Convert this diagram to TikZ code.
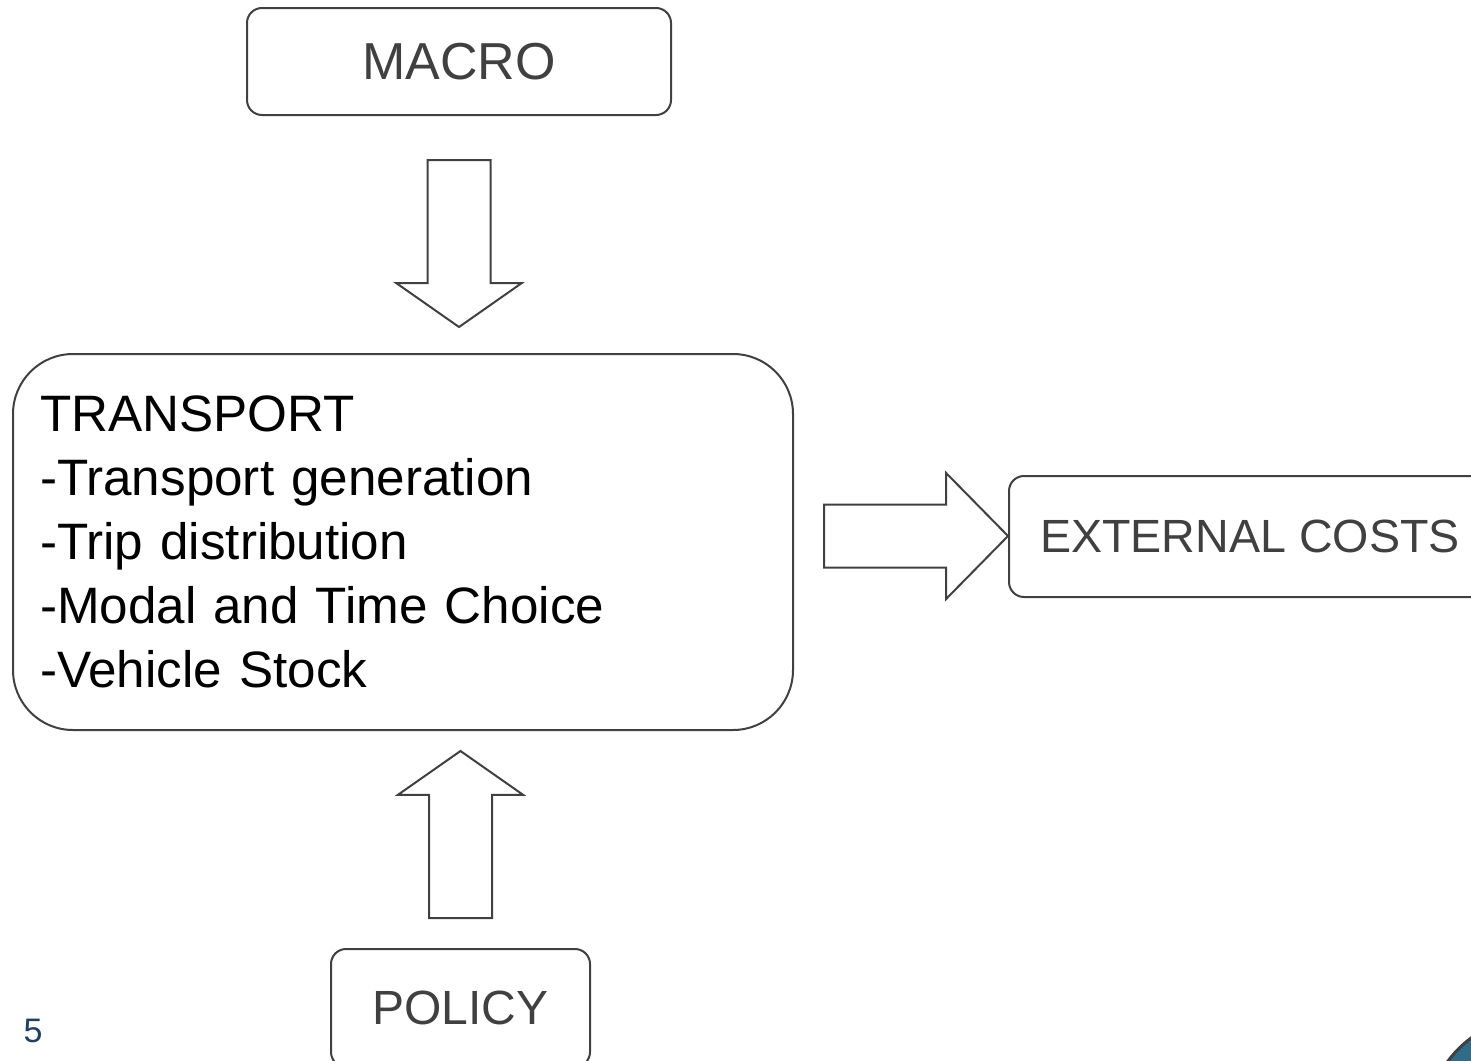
\documentclass[tikz,border=0pt]{standalone}
\usepackage{fontspec}
\setmainfont{Liberation Sans}
\usepackage{tikz}
\usetikzlibrary{shapes.arrows, calc}
\definecolor{linegray}{HTML}{404040}
\definecolor{numblue}{HTML}{1F3F5F}
\definecolor{dotblue}{HTML}{2F6B8A}

\begin{document}
\begin{tikzpicture}[
  x=0.5pt, y=-0.5pt,
  box/.style={rectangle, draw=linegray, line width=1pt, text=linegray, rounded corners=7.5pt, align=center},
  bigarrow/.style={single arrow, draw=linegray, line width=1pt, inner xsep=0pt, inner ysep=15.25pt, single arrow head extend=15.5pt}
]
\useasboundingbox (0,0) rectangle (1471,1060);
\clip (0,0) rectangle (1471,1060);

% Boxes
\node[box, minimum width=212pt, minimum height=53.5pt, font=\fontsize{26}{32}\selectfont] (macro) at (459,61.5) {MACRO};
\node[box, rounded corners=30pt, minimum width=390pt, minimum height=188pt, text width=363pt, inner xsep=13.5pt, align=left, text=black, font=\fontsize{25.6}{32}\selectfont] (transport) at (403,542) {TRANSPORT\\-Transport generation\\-Trip distribution\\-Modal and Time Choice\\-Vehicle Stock};
\node[box, minimum width=241pt, minimum height=60.5pt, font=\fontsize{23.3}{30}\selectfont] (extcosts) at (1250,536.5) {EXTERNAL COSTS};
\node[box, minimum width=129.5pt, minimum height=59pt, font=\fontsize{24}{30}\selectfont] (policy) at (460.5,1008) {POLICY};

% Arrows
\node[bigarrow, rotate=-90, anchor=tail, minimum height=83.5pt, single arrow tip angle=110] (macroarrow) at ($(macro.south)+(0,43)$) {};
\node[bigarrow, rotate=90, anchor=tail, minimum height=83.5pt, single arrow tip angle=110] (policyarrow) at ($(policy.north)+(0,-29)$) {};
\node[bigarrow, anchor=tail, minimum height=92pt, single arrow tip angle=91, single arrow head extend=15.75pt] (costarrow) at ($(transport.east)+(29,-6)$) {};

% Page number and corner mark
\node[text=numblue, font=\fontsize{17}{20}\selectfont] (pagenum) at (33,1031) {5};
\draw[draw=linegray, fill=dotblue, line width=1.5pt] (1540,1130) circle (57.5pt);

\end{tikzpicture}
\end{document}
